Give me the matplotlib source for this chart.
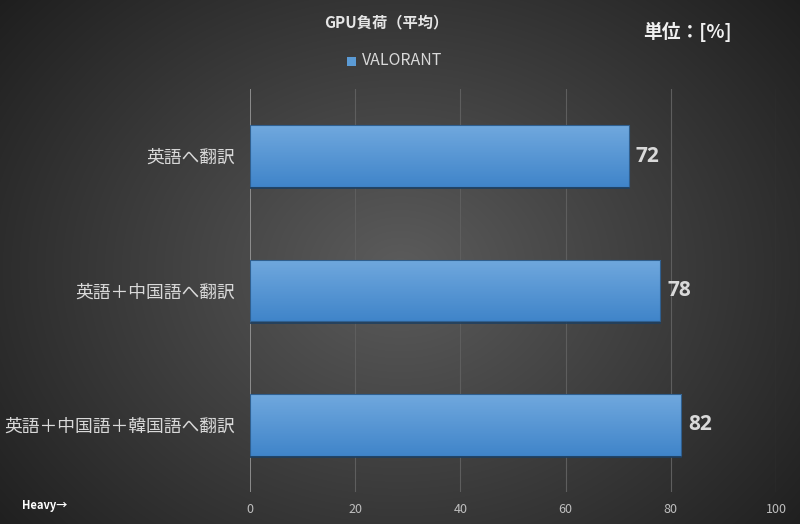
import numpy as np
import matplotlib
matplotlib.use("Agg")
import matplotlib.pyplot as plt
from matplotlib.patches import Rectangle

plt.rcParams['font.family'] = ['Noto Sans CJK JP', 'DejaVu Sans']

categories = ["英語へ翻訳", "英語＋中国語へ翻訳", "英語＋中国語＋韓国語へ翻訳"]
values = [72, 78, 82]
series_name = "VALORANT"
xticks = [0, 20, 40, 60, 80, 100]

W, H = 800, 524
fig = plt.figure(figsize=(W/100, H/100), dpi=100)

# background radial gradient
bg = fig.add_axes([0, 0, 1, 1])
yy, xx = np.mgrid[0:H, 0:W]
d = np.sqrt(((xx - 400) / 520) ** 2 + ((yy - 270) / 420) ** 2)
lev = np.clip(0.36 - 0.24 * d, 0.10, 0.37)
img = np.dstack([lev, lev, lev])
bg.imshow(img, aspect='auto', extent=[0, 1, 0, 1], origin='upper')
bg.axis('off')

left, right = 250 / W, 776 / W
top, bottom = 89 / H, 492 / H
ax = fig.add_axes([left, 1 - bottom, right - left, bottom - top])
ax.set_facecolor('none')
ax.set_xlim(0, 100)
n = len(categories)
ax.set_ylim(n - 0.5, -0.5)
for s in ax.spines.values():
    s.set_visible(False)
ax.axvline(0, color='#9a9a9a', lw=1.2, zorder=2)
for t in xticks[1:]:
    ax.axvline(t, color='#5e5e5e', lw=0.8, zorder=1)

ypos = np.arange(n)
bars = ax.barh(ypos, values, height=0.46, color='#5b9bd5', edgecolor='none', zorder=3)
grad = np.linspace(0, 1, 100)[:, None]
c_top = np.array([0.44, 0.66, 0.87])
c_bot = np.array([0.25, 0.52, 0.79])
gimg = c_top[None, None, :] * (1 - grad[:, :, None]) + c_bot[None, None, :] * grad[:, :, None]
for b in bars:
    x0, y0 = b.get_x(), b.get_y()
    w, h = b.get_width(), b.get_height()
    im = ax.imshow(gimg, extent=[x0, x0 + w, y0 + h, y0], aspect='auto', zorder=4)
    im.set_clip_path(b)
    ax.add_patch(Rectangle((x0, y0), w, h, fill=False, edgecolor='#2f5f8f', lw=0.8, zorder=5))
    ax.plot([x0, x0 + w], [y0 + h + 0.01, y0 + h + 0.01], color='#1e3f60', lw=1.2, zorder=5)
    ax.text(x0 + w + 1.3, y0 + h / 2, f"{int(w)}", va='center', ha='left',
            fontsize=15, fontweight='bold', color='#d9d9d9', zorder=6,
            family=['Open Sans', 'DejaVu Sans'])
ax.set_xlim(0, 100)
ax.set_ylim(n - 0.5, -0.5)

ax.set_yticks(ypos)
ax.set_yticklabels(categories, fontsize=12.8, color='#d9d9d9')
ax.set_xticks(xticks)
ax.set_xticklabels([str(t) for t in xticks], fontsize=9, color='#bfbfbf')
ax.tick_params(axis='both', length=0)
ax.tick_params(axis='y', pad=11)
ax.tick_params(axis='x', pad=8)

fig.text(386 / W, 1 - 22 / H, "GPU負荷（平均）", ha='center', va='center',
         fontsize=11, fontweight='bold', color='#e6e6e6')
fig.text(687 / W, 1 - 32 / H, "単位：[%]", ha='center', va='center',
         fontsize=13.5, fontweight='bold', color='#f0f0f0')
fig.patches.append(Rectangle((347 / W, 1 - 66 / H), 9 / W, 9 / H, transform=fig.transFigure,
                             facecolor='#5b9bd5', edgecolor='none'))
fig.text(362 / W, 1 - 61 / H, series_name, ha='left', va='center',
         fontsize=11.5, color='#d9d9d9')
fig.text(22 / W, 1 - 505 / H, "Heavy→", ha='left', va='center',
         fontsize=8, fontweight='bold', color='#ffffff')

fig.savefig("out.png", dpi=100)
